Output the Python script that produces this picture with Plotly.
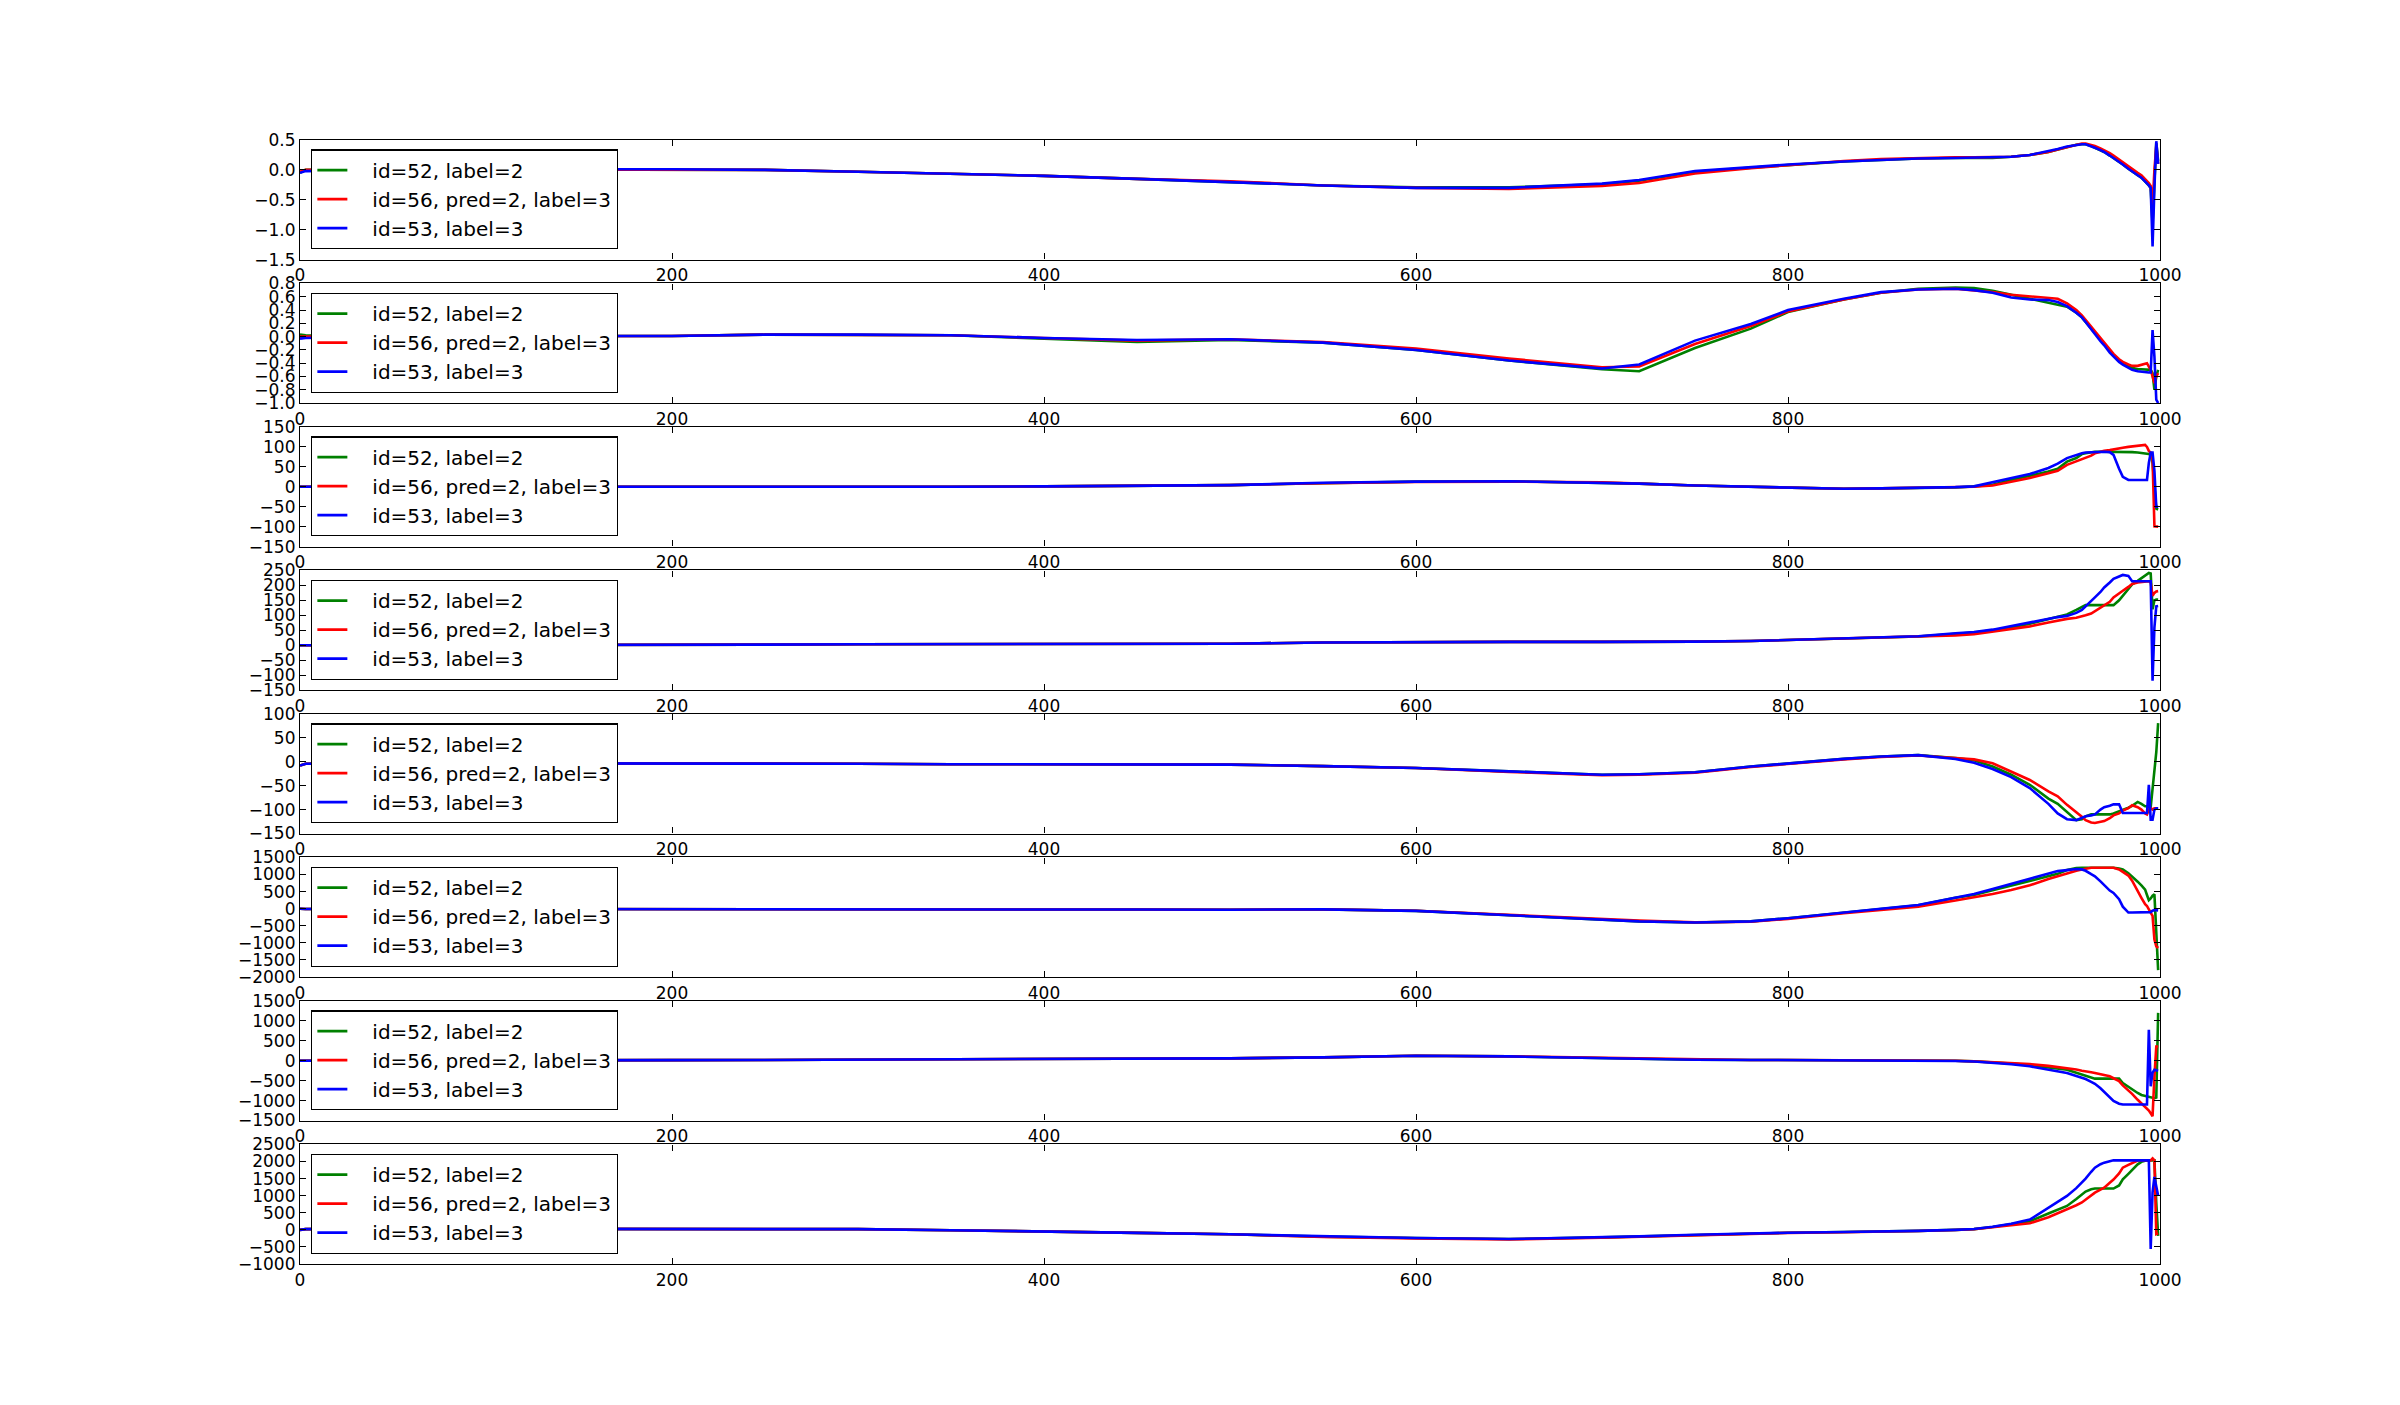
import plotly.graph_objects as go

# ---------------- data ----------------
SAMPLE_IDX = [0, 3, 50, 100, 150, 200, 250, 300, 350, 400,
              450, 500, 550, 600, 650, 700, 720, 750, 780, 800,
              830, 850, 870, 890, 900, 910, 920, 930, 940, 945,
              950, 955, 958, 960, 963, 965, 968, 970, 973, 975,
              978, 980, 983, 985, 988, 990, 992, 993, 994, 995,
              996, 997, 998, 999]

SERIES_NAMES = ["id=52, label=2", "id=56, pred=2, label=3", "id=53, label=3"]
SERIES_COLORS = ["#008000", "#ff0000", "#0000ff"]

X_TICKS = [0, 200, 400, 600, 800, 1000]

P1_G = [-0.05, 0.0, 0.01, 0.01, 0.01, 0.01, 0.0, -0.03, -0.06, -0.10,
        -0.15, -0.20, -0.26, -0.29, -0.29, -0.24, -0.18, -0.03, 0.04, 0.08,
        0.14, 0.17, 0.19, 0.20, 0.20, 0.20, 0.22, 0.25, 0.30, 0.34,
        0.38, 0.42, 0.43, 0.43, 0.40, 0.37, 0.33, 0.30, 0.24, 0.20,
        0.13, 0.09, 0.02, -0.03, -0.09, -0.13, -0.19, -0.22, -0.26, -0.30,
        -0.9, -0.2, 0.45, 0.15]
P1_R = [-0.03, 0.0, 0.01, 0.01, 0.01, 0.01, 0.0, -0.03, -0.06, -0.10,
        -0.15, -0.19, -0.26, -0.30, -0.32, -0.27, -0.22, -0.06, 0.03, 0.08,
        0.15, 0.18, 0.20, 0.21, 0.21, 0.21, 0.22, 0.25, 0.30, 0.34,
        0.38, 0.42, 0.44, 0.44, 0.42, 0.40, 0.36, 0.33, 0.28, 0.24,
        0.17, 0.13, 0.06, 0.01, -0.05, -0.09, -0.15, -0.18, -0.22, -0.27,
        -0.6, 0.0, 0.40, 0.10]
P1_B = [-0.05, -0.02, 0.0, 0.01, 0.01, 0.01, 0.0, -0.03, -0.06, -0.10,
        -0.15, -0.21, -0.26, -0.30, -0.30, -0.23, -0.17, -0.02, 0.05, 0.09,
        0.14, 0.17, 0.19, 0.20, 0.21, 0.21, 0.22, 0.25, 0.31, 0.35,
        0.39, 0.42, 0.43, 0.43, 0.40, 0.37, 0.33, 0.30, 0.24, 0.20,
        0.13, 0.09, 0.02, -0.03, -0.09, -0.13, -0.19, -0.22, -0.26, -0.30,
        -1.28, -0.3, 0.48, 0.10]

P2_G = [0.03, 0.02, 0.01, 0.01, 0.01, 0.01, 0.03, 0.03, 0.02, -0.03,
        -0.08, -0.05, -0.09, -0.20, -0.36, -0.49, -0.52, -0.17, 0.12, 0.37,
        0.56, 0.66, 0.72, 0.74, 0.73, 0.69, 0.63, 0.58, 0.52, 0.49,
        0.45, 0.36, 0.29, 0.22, 0.12, 0.05, -0.05, -0.11, -0.22, -0.28,
        -0.36, -0.40, -0.45, -0.47, -0.49, -0.49, -0.49, -0.49, -0.49, -0.50,
        -0.55, -0.80, -0.60, -0.50]
P2_R = [0.0, 0.0, 0.01, 0.01, 0.01, 0.01, 0.03, 0.03, 0.02, -0.02,
        -0.06, -0.04, -0.08, -0.18, -0.33, -0.46, -0.45, -0.11, 0.16, 0.38,
        0.56, 0.66, 0.71, 0.72, 0.70, 0.67, 0.63, 0.61, 0.59, 0.57,
        0.50, 0.40, 0.32, 0.25, 0.15, 0.08, -0.02, -0.09, -0.20, -0.26,
        -0.34, -0.38, -0.42, -0.44, -0.44, -0.42, -0.40, -0.40, -0.45, -0.50,
        -0.60, -0.70, -0.60, -0.55]
P2_B = [-0.03, -0.02, 0.0, 0.01, 0.01, 0.01, 0.03, 0.03, 0.02, -0.02,
        -0.05, -0.04, -0.09, -0.20, -0.36, -0.48, -0.42, -0.06, 0.19, 0.40,
        0.57, 0.67, 0.71, 0.72, 0.70, 0.66, 0.59, 0.56, 0.55, 0.52,
        0.46, 0.36, 0.29, 0.22, 0.12, 0.04, -0.07, -0.13, -0.24, -0.30,
        -0.38, -0.42, -0.47, -0.50, -0.52, -0.53, -0.53, -0.54, -0.54, -0.54,
        0.10, -0.30, -0.95, -1.0]

P3_G = [0, 0, 0, 0, -1, -1, -1, -1, 0, 1,
        2, 4, 9, 13, 14, 11, 8, 3, 0, -2,
        -5, -4, -3, -2, 1, 5, 17, 27, 38, 45,
        63, 72, 82, 84, 86, 88, 88, 88, 88, 88,
        88, 88, 87, 87, 86, 85, 84, 83, 82, 80,
        60, 0, -55, -57]
P3_R = [0, 0, 0, 0, -1, -1, -1, -1, 0, 1,
        2, 4, 9, 12, 13, 11, 8, 3, 0, -2,
        -5, -4, -3, -2, 0, 3, 13, 22, 34, 40,
        55, 64, 70, 72, 78, 84, 88, 90, 92, 94,
        97, 98, 100, 101, 103, 104, 105, 100, 90, 86,
        70, -99, -100, -100]
P3_B = [0, 0, 0, 0, -1, -1, -1, -1, 0, 1,
        2, 4, 10, 13, 14, 11, 8, 3, 0, -2,
        -5, -4, -3, -1, 1, 11, 22, 32, 47, 58,
        72, 80, 84, 86, 87, 88, 88, 88, 87, 80,
        45, 25, 17, 17, 17, 17, 17, 17, 60, 86,
        86, 40, -50, -50]

P4_G = [0, 0, 0, 1, 1, 2, 2, 3, 3, 3,
        4, 5, 9, 11, 11, 11, 11, 12, 14, 18,
        23, 26, 29, 37, 42, 50, 59, 72, 87, 95,
        103, 118, 128, 134, 134, 134, 134, 134, 134, 134,
        150, 165, 185, 203, 215, 225, 235, 240, 242, 240,
        120, 150, 153, 153]
P4_R = [0, 0, 0, 1, 1, 2, 2, 3, 3, 3,
        4, 5, 9, 11, 11, 11, 11, 12, 14, 17,
        22, 25, 28, 33, 37, 45, 53, 63, 76, 83,
        88, 92, 96, 100, 106, 114, 124, 131, 145, 160,
        175, 182, 195, 205, 210, 212, 213, 214, 214, 210,
        165, 175, 180, 181]
P4_B = [0, 0, 0, 1, 1, 2, 2, 3, 3, 3,
        4, 5, 9, 11, 11, 11, 11, 12, 14, 18,
        23, 26, 30, 40, 44, 52, 64, 76, 89, 94,
        98, 108, 118, 131, 148, 160, 178, 193, 210, 222,
        230, 235, 232, 214, 214, 214, 214, 214, 214, 214,
        -119, 60, 130, 131]

P5_G = [-8, -4, -3, -3, -3, -3, -4, -4, -5, -5,
        -5, -6, -9, -13, -20, -27, -26, -22, -10, -3,
        6, 11, 14, 8, 3, -10, -27, -48, -77, -88,
        -105, -122, -120, -114, -110, -110, -110, -110, -110, -108,
        -104, -100, -96, -92, -84, -88, -93, -93, -95, -95,
        -60, -27, 20, 81]
P5_R = [-8, -4, -3, -3, -3, -3, -4, -4, -5, -5,
        -5, -6, -9, -13, -21, -28, -27, -23, -11, -4,
        5, 10, 13, 8, 5, -3, -20, -38, -62, -72,
        -90, -105, -115, -122, -127, -128, -126, -124, -118, -112,
        -108, -102, -97, -91, -95, -100, -108, -110, -100, -97,
        -100, -97, -97, -97]
P5_B = [-8, -4, -3, -3, -3, -3, -4, -4, -5, -5,
        -5, -6, -9, -13, -20, -27, -26, -22, -10, -3,
        6, 11, 14, 6, -2, -15, -32, -55, -88, -108,
        -120, -122, -118, -114, -112, -110, -100, -95, -92, -89,
        -89, -107, -107, -107, -107, -107, -107, -107, -48, -121,
        -121, -100, -97, -97]

P6_G = [0, -10, -5, -5, -5, -5, -8, -10, -15, -20,
        -25, -30, -20, -65, -190, -337, -370, -405, -370, -280,
        -110, -5, 100, 320, 400, 540, 680, 810, 950, 1020,
        1130, 1190, 1199, 1199, 1199, 1199, 1199, 1199, 1199, 1199,
        1175, 1150, 1040, 950, 790, 680, 560, 400, 250, 300,
        380, 420, -800, -1800]
P6_R = [0, -10, -5, -5, -5, -5, -8, -10, -15, -20,
        -25, -30, -20, -60, -180, -320, -350, -400, -380, -300,
        -130, -40, 60, 240, 335, 430, 550, 685, 870, 955,
        1030, 1110, 1150, 1175, 1199, 1199, 1199, 1199, 1199, 1199,
        1150, 1080, 970, 820, 500, 320, 130, 80, -20, -120,
        -212, -900, -1100, -1150]
P6_B = [0, -10, -5, -5, -5, -5, -8, -10, -15, -20,
        -25, -30, -20, -65, -190, -337, -370, -405, -370, -280,
        -100, 0, 110, 330, 430, 575, 725, 875, 1030, 1100,
        1130, 1160, 1150, 1110, 1010, 950, 800, 680, 530, 460,
        280, 60, -113, -113, -113, -113, -113, -113, -113, -100,
        -60, -40, -45, -50]

P7_G = [0, 0, 5, 10, 10, 15, 20, 25, 30, 40,
        50, 60, 85, 125, 108, 67, 50, 25, 20, 17,
        17, 15, 10, 0, -15, -35, -70, -110, -160, -190,
        -225, -300, -350, -380, -430, -450, -450, -450, -450, -450,
        -450, -560, -660, -720, -810, -860, -880, -892, -900, -920,
        -930, -940, -925, 1200]
P7_R = [0, 0, 5, 10, 10, 15, 20, 25, 30, 40,
        50, 60, 85, 125, 110, 70, 52, 28, 20, 17,
        17, 15, 10, 0, -15, -35, -60, -85, -130, -155,
        -183, -220, -250, -260, -290, -308, -340, -360, -392, -440,
        -510, -620, -740, -830, -980, -1070, -1150, -1183, -1250, -1320,
        -1392, -400, 358, 358]
P7_B = [0, 0, 5, 10, 10, 15, 20, 25, 30, 40,
        50, 60, 85, 125, 108, 67, 50, 25, 20, 17,
        17, 15, 10, -5, -20, -50, -90, -140, -220, -260,
        -308, -385, -430, -460, -530, -580, -690, -780, -933, -1010,
        -1080, -1100, -1100, -1100, -1100, -1100, -1100, -1100, 775, -640,
        -300, -225, -240, -250]

P8_G = [0, 20, 30, 30, 30, 30, 30, 20, -10, -60,
        -90, -130, -200, -240, -270, -221, -190, -143, -100, -85,
        -65, -56, -30, 0, 20, 85, 160, 250, 480, 600,
        700, 900, 1040, 1120, 1190, 1208, 1208, 1208, 1208, 1208,
        1300, 1478, 1640, 1750, 1917, 1990, 2030, 2034, 2034, 2034,
        2034, 2034, 800, -175]
P8_R = [0, 20, 30, 30, 30, 30, 30, 20, -10, -60,
        -90, -130, -210, -250, -280, -230, -200, -150, -105, -90,
        -70, -60, -35, -5, 15, 75, 130, 190, 370, 480,
        604, 720, 800, 880, 1000, 1090, 1180, 1236, 1380, 1470,
        1650, 1820, 1900, 1960, 2030, 2034, 2034, 2034, 2034, 2034,
        2090, 2034, -125, -100]
P8_B = [0, 20, 30, 30, 30, 30, 30, 20, -10, -60,
        -90, -130, -192, -240, -270, -221, -190, -143, -100, -85,
        -65, -56, -30, 0, 25, 90, 180, 300, 650, 840,
        992, 1220, 1380, 1500, 1700, 1820, 1920, 1966, 2010, 2034,
        2034, 2034, 2034, 2034, 2034, 2034, 2034, 2034, 2034, -560,
        1100, 1550, 1300, 1000]

Y_RANGES = [(-1.5, 0.5), (-1.0, 0.8), (-150, 150), (-150, 250),
            (-150, 100), (-2000, 1500), (-1500, 1500), (-1000, 2500)]
Y_TICKS_1 = [0.5, 0.0, -0.5, -1.0, -1.5]
Y_TICKS_2 = [0.8, 0.6, 0.4, 0.2, 0.0, -0.2, -0.4, -0.6, -0.8, -1.0]
Y_TICKS_3 = [150, 100, 50, 0, -50, -100, -150]
Y_TICKS_4 = [250, 200, 150, 100, 50, 0, -50, -100, -150]
Y_TICKS_5 = [100, 50, 0, -50, -100, -150]
Y_TICKS_6 = [1500, 1000, 500, 0, -500, -1000, -1500, -2000]
Y_TICKS_7 = [1500, 1000, 500, 0, -500, -1000, -1500]
Y_TICKS_8 = [2500, 2000, 1500, 1000, 500, 0, -500, -1000]
Y_DECIMALS = [1, 1, 0, 0, 0, 0, 0, 0]

# ---------------- figure ----------------
PANELS = [(P1_G, P1_R, P1_B), (P2_G, P2_R, P2_B), (P3_G, P3_R, P3_B),
          (P4_G, P4_R, P4_B), (P5_G, P5_R, P5_B), (P6_G, P6_R, P6_B),
          (P7_G, P7_R, P7_B), (P8_G, P8_R, P8_B)]
Y_TICKS = [Y_TICKS_1, Y_TICKS_2, Y_TICKS_3, Y_TICKS_4,
           Y_TICKS_5, Y_TICKS_6, Y_TICKS_7, Y_TICKS_8]

for p in PANELS:
    for s in p:
        assert len(s) == len(SAMPLE_IDX), len(s)


def fmt(v, dec):
    return f"{v:.{dec}f}".replace("-", "\u2212")


FONT = "DejaVu Sans"
LEGEND_PAD = "\u2002\u2002"   # gap between legend line sample and its label
fig = go.Figure()
H = 1 / 9.4
S = 1.2 / 9.4
layout = {}
for i in range(8):
    top = 1 - i * S
    bot = top - H
    sfx = "" if i == 0 else str(i + 1)
    leg = "legend" if i == 0 else f"legend{i + 1}"
    for name, color, ys in zip(SERIES_NAMES, SERIES_COLORS, PANELS[i]):
        fig.add_trace(go.Scatter(
            x=SAMPLE_IDX, y=ys, mode="lines", name=LEGEND_PAD + name,
            line=dict(color=color, width=2.6),
            xaxis="x" + sfx, yaxis="y" + sfx, legend=leg))
    axis_common = dict(ticks="inside", ticklen=6, tickwidth=1, tickcolor="black",
                       showline=True, linecolor="black", linewidth=1.2,
                       mirror="ticks", showgrid=False, zeroline=False,
                       tickfont=dict(family=FONT, size=17, color="black"))
    layout["xaxis" + sfx] = dict(domain=[0, 1], anchor="y" + sfx, range=[0, 1000],
                                 tickmode="array", tickvals=X_TICKS,
                                 ticktext=[str(v) for v in X_TICKS], **axis_common)
    layout["yaxis" + sfx] = dict(domain=[bot, top], anchor="x" + sfx,
                                 range=list(Y_RANGES[i]), tickmode="array",
                                 tickvals=Y_TICKS[i],
                                 ticktext=[fmt(v, Y_DECIMALS[i]) for v in Y_TICKS[i]],
                                 **axis_common)
    layout[leg] = dict(x=0.006, y=bot + 0.009, xanchor="left", yanchor="bottom",
                       bordercolor="black", borderwidth=1.2, bgcolor="white",
                       font=dict(family=FONT, size=20, color="black"),
                       itemwidth=30, tracegroupgap=0)

fig.update_layout(
    width=2400, height=1405, autosize=False,
    margin=dict(l=300, r=240, t=140, b=141, pad=0),
    paper_bgcolor="white", plot_bgcolor="white",
    font=dict(family=FONT, size=17, color="black"),
    showlegend=True,
    **layout,
)

fig.write_html("out.html", config={"displayModeBar": False})
